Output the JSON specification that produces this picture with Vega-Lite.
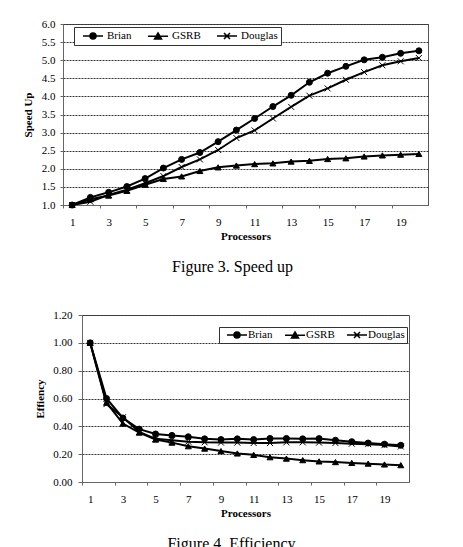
{
  "$schema": "https://vega.github.io/schema/vega-lite/v6.json",
  "background": "white",
  "padding": {"left": 21, "top": 17, "right": 0, "bottom": 0},
  "datasets": {
    "runs": [
      {"p": 1, "series": "Brian", "speedup": 1.00, "efficiency": 1.00},
      {"p": 2, "series": "Brian", "speedup": 1.21, "efficiency": 0.60},
      {"p": 3, "series": "Brian", "speedup": 1.35, "efficiency": 0.46},
      {"p": 4, "series": "Brian", "speedup": 1.51, "efficiency": 0.38},
      {"p": 5, "series": "Brian", "speedup": 1.73, "efficiency": 0.345},
      {"p": 6, "series": "Brian", "speedup": 2.02, "efficiency": 0.335},
      {"p": 7, "series": "Brian", "speedup": 2.26, "efficiency": 0.325},
      {"p": 8, "series": "Brian", "speedup": 2.45, "efficiency": 0.31},
      {"p": 9, "series": "Brian", "speedup": 2.75, "efficiency": 0.305},
      {"p": 10, "series": "Brian", "speedup": 3.07, "efficiency": 0.31},
      {"p": 11, "series": "Brian", "speedup": 3.39, "efficiency": 0.305},
      {"p": 12, "series": "Brian", "speedup": 3.72, "efficiency": 0.313},
      {"p": 13, "series": "Brian", "speedup": 4.03, "efficiency": 0.313},
      {"p": 14, "series": "Brian", "speedup": 4.39, "efficiency": 0.31},
      {"p": 15, "series": "Brian", "speedup": 4.64, "efficiency": 0.312},
      {"p": 16, "series": "Brian", "speedup": 4.83, "efficiency": 0.30},
      {"p": 17, "series": "Brian", "speedup": 5.01, "efficiency": 0.29},
      {"p": 18, "series": "Brian", "speedup": 5.08, "efficiency": 0.28},
      {"p": 19, "series": "Brian", "speedup": 5.19, "efficiency": 0.272},
      {"p": 20, "series": "Brian", "speedup": 5.26, "efficiency": 0.264},
      {"p": 1, "series": "GSRB", "speedup": 1.00, "efficiency": 1.00},
      {"p": 2, "series": "GSRB", "speedup": 1.16, "efficiency": 0.57},
      {"p": 3, "series": "GSRB", "speedup": 1.26, "efficiency": 0.42},
      {"p": 4, "series": "GSRB", "speedup": 1.39, "efficiency": 0.355},
      {"p": 5, "series": "GSRB", "speedup": 1.56, "efficiency": 0.305},
      {"p": 6, "series": "GSRB", "speedup": 1.72, "efficiency": 0.283},
      {"p": 7, "series": "GSRB", "speedup": 1.79, "efficiency": 0.257},
      {"p": 8, "series": "GSRB", "speedup": 1.94, "efficiency": 0.24},
      {"p": 9, "series": "GSRB", "speedup": 2.04, "efficiency": 0.222},
      {"p": 10, "series": "GSRB", "speedup": 2.09, "efficiency": 0.205},
      {"p": 11, "series": "GSRB", "speedup": 2.13, "efficiency": 0.195},
      {"p": 12, "series": "GSRB", "speedup": 2.15, "efficiency": 0.178},
      {"p": 13, "series": "GSRB", "speedup": 2.20, "efficiency": 0.168},
      {"p": 14, "series": "GSRB", "speedup": 2.22, "efficiency": 0.157},
      {"p": 15, "series": "GSRB", "speedup": 2.27, "efficiency": 0.148},
      {"p": 16, "series": "GSRB", "speedup": 2.29, "efficiency": 0.143},
      {"p": 17, "series": "GSRB", "speedup": 2.34, "efficiency": 0.137},
      {"p": 18, "series": "GSRB", "speedup": 2.37, "efficiency": 0.132},
      {"p": 19, "series": "GSRB", "speedup": 2.39, "efficiency": 0.126},
      {"p": 20, "series": "GSRB", "speedup": 2.41, "efficiency": 0.121},
      {"p": 1, "series": "Douglas", "speedup": 1.00, "efficiency": 1.00},
      {"p": 2, "series": "Douglas", "speedup": 1.09, "efficiency": 0.56},
      {"p": 3, "series": "Douglas", "speedup": 1.28, "efficiency": 0.465},
      {"p": 4, "series": "Douglas", "speedup": 1.42, "efficiency": 0.36},
      {"p": 5, "series": "Douglas", "speedup": 1.60, "efficiency": 0.31},
      {"p": 6, "series": "Douglas", "speedup": 1.80, "efficiency": 0.30},
      {"p": 7, "series": "Douglas", "speedup": 2.05, "efficiency": 0.29},
      {"p": 8, "series": "Douglas", "speedup": 2.26, "efficiency": 0.285},
      {"p": 9, "series": "Douglas", "speedup": 2.52, "efficiency": 0.283},
      {"p": 10, "series": "Douglas", "speedup": 2.85, "efficiency": 0.283},
      {"p": 11, "series": "Douglas", "speedup": 3.06, "efficiency": 0.28},
      {"p": 12, "series": "Douglas", "speedup": 3.39, "efficiency": 0.28},
      {"p": 13, "series": "Douglas", "speedup": 3.71, "efficiency": 0.285},
      {"p": 14, "series": "Douglas", "speedup": 4.02, "efficiency": 0.285},
      {"p": 15, "series": "Douglas", "speedup": 4.22, "efficiency": 0.283},
      {"p": 16, "series": "Douglas", "speedup": 4.46, "efficiency": 0.28},
      {"p": 17, "series": "Douglas", "speedup": 4.67, "efficiency": 0.275},
      {"p": 18, "series": "Douglas", "speedup": 4.86, "efficiency": 0.272},
      {"p": 19, "series": "Douglas", "speedup": 4.97, "efficiency": 0.265},
      {"p": 20, "series": "Douglas", "speedup": 5.06, "efficiency": 0.255}
    ]
  },
  "bounds": "flush",
  "center": true,
  "spacing": 110,
  "resolve": {"scale": {"shape": "independent"}, "legend": {"shape": "independent"}},
  "vconcat": [
    {
      "width": 365,
      "height": 181,
      "data": {"name": "runs"},
      "title": {"text": "Figure 3. Speed up", "offset": 18, "dx": -13},
      "resolve": {"scale": {"shape": "independent"}},
      "layer": [
        {
          "mark": {"type": "line", "color": "black", "strokeWidth": 2},
          "encoding": {
            "x": {"field": "p", "type": "quantitative", "scale": {"domain": [0.5, 20.5], "nice": false, "zero": false},
                  "axis": {"title": "Processors", "values": [1, 3, 5, 7, 9, 11, 13, 15, 17, 19], "format": "d", "tickOffset": -9.125, "labelOffset": 9.125}},
            "y": {"field": "speedup", "type": "quantitative", "scale": {"domain": [1, 6], "nice": false, "zero": false},
                  "axis": {"title": "Speed Up", "values": [1, 1.5, 2, 2.5, 3, 3.5, 4, 4.5, 5, 5.5, 6], "format": ".1f"}},
            "detail": {"field": "series"}
          }
        },
        {
          "mark": {"type": "point", "filled": true, "color": "black", "stroke": "black", "strokeWidth": 1, "opacity": 1, "size": 36},
          "encoding": {
            "x": {"field": "p", "type": "quantitative"},
            "y": {"field": "speedup", "type": "quantitative"},
            "shape": {
              "field": "series", "type": "nominal", "legend": null,
              "scale": {"domain": ["Brian", "GSRB", "Douglas"], "range": ["circle", "triangle-up", "M-1,-1L1,1M-1,1L1,-1"]}
            }
          }
        },
        {
          "mark": {"type": "point", "filled": true, "color": "black", "opacity": 0, "size": 36},
          "encoding": {
            "x": {"field": "p", "type": "quantitative"},
            "y": {"field": "speedup", "type": "quantitative"},
            "shape": {
              "field": "series", "type": "nominal",
              "scale": {"domain": ["Brian", "GSRB", "Douglas"], "range": [
                "M0,0L4,0M1.4,0A0.6,0.6 0 1,1 2.6,0A0.6,0.6 0 1,1 1.4,0Z",
                "M0,0L4,0M2,-0.65L2.7,0.55L1.3,0.55Z",
                "M0,0L4,0M1.4,-0.6L2.6,0.6M1.4,0.6L2.6,-0.6"]},
              "legend": {
                "title": null, "orient": "none", "legendX": 11, "legendY": 3,
                "direction": "horizontal", "columns": 3, "padding": 3,
                "symbolSize": 100, "symbolOpacity": 1, "labelOffset": 18, "columnPadding": 10,
                "encoding": {"symbols": {
                  "fill": {"value": "black"},
                  "stroke": {"value": "black"},
                  "strokeWidth": {"value": 1.5},
                  "opacity": {"value": 1}
                }}
              }
            }
          }
        }
      ]
    },
    {
      "width": 327,
      "height": 167,
      "data": {"name": "runs"},
      "title": {"text": "Figure 4. Efficiency", "offset": 18, "dx": -14},
      "resolve": {"scale": {"shape": "independent"}},
      "layer": [
        {
          "mark": {"type": "line", "color": "black", "strokeWidth": 2},
          "encoding": {
            "x": {"field": "p", "type": "quantitative", "scale": {"domain": [0.5, 20.5], "nice": false, "zero": false},
                  "axis": {"title": "Processors", "values": [1, 3, 5, 7, 9, 11, 13, 15, 17, 19], "format": "d", "tickOffset": -8.175, "labelOffset": 8.175}},
            "y": {"field": "efficiency", "type": "quantitative", "scale": {"domain": [0, 1.2], "nice": false, "zero": false},
                  "axis": {"title": "Effiency", "values": [0, 0.2, 0.4, 0.6, 0.8, 1.0, 1.2], "format": ".2f", "tickSize": 4, "labelPadding": 6, "titlePadding": 7}},
            "detail": {"field": "series"}
          }
        },
        {
          "mark": {"type": "point", "filled": true, "color": "black", "stroke": "black", "strokeWidth": 1, "opacity": 1, "size": 36},
          "encoding": {
            "x": {"field": "p", "type": "quantitative"},
            "y": {"field": "efficiency", "type": "quantitative"},
            "shape": {
              "field": "series", "type": "nominal", "legend": null,
              "scale": {"domain": ["Brian", "GSRB", "Douglas"], "range": ["circle", "triangle-up", "M-1,-1L1,1M-1,1L1,-1"]}
            }
          }
        },
        {
          "mark": {"type": "point", "filled": true, "color": "black", "opacity": 0, "size": 36},
          "encoding": {
            "x": {"field": "p", "type": "quantitative"},
            "y": {"field": "efficiency", "type": "quantitative"},
            "shape": {
              "field": "series", "type": "nominal",
              "scale": {"domain": ["Brian", "GSRB", "Douglas"], "range": [
                "M0,0L4,0M1.4,0A0.6,0.6 0 1,1 2.6,0A0.6,0.6 0 1,1 1.4,0Z",
                "M0,0L4,0M2,-0.65L2.7,0.55L1.3,0.55Z",
                "M0,0L4,0M1.4,-0.6L2.6,0.6M1.4,0.6L2.6,-0.6"]},
              "legend": {
                "title": null, "orient": "none", "legendX": 137, "legendY": 12,
                "direction": "horizontal", "columns": 3, "padding": 2,
                "symbolSize": 100, "symbolOpacity": 1, "labelOffset": 15, "columnPadding": 6,
                "encoding": {"symbols": {
                  "fill": {"value": "black"},
                  "stroke": {"value": "black"},
                  "strokeWidth": {"value": 1.5},
                  "opacity": {"value": 1}
                }}
              }
            }
          }
        }
      ]
    }
  ],
  "config": {
    "font": "Liberation Serif",
    "view": {"stroke": "#555", "strokeWidth": 1},
    "axis": {
      "labelFont": "Liberation Serif", "labelFontSize": 11, "labelColor": "black", "labelOverlap": false,
      "titleFont": "Liberation Serif", "titleFontSize": 11, "titleFontWeight": "bold", "titleColor": "black",
      "domainColor": "#666", "tickColor": "#666", "tickCount": 30
    },
    "axisX": {"grid": false, "tickSize": 3, "labelPadding": 8, "titlePadding": 3, "labelAngle": 0},
    "axisY": {"grid": true, "gridColor": "#333", "gridDash": [2, 1], "gridWidth": 1, "tickSize": 3, "labelPadding": 5, "titlePadding": 8},
    "legend": {
      "labelFont": "Liberation Serif", "labelFontSize": 11, "labelColor": "black",
      "fillColor": "white", "strokeColor": "#333",
      "symbolFillColor": "black", "symbolStrokeColor": "black", "symbolStrokeWidth": 1.5
    },
    "title": {"font": "Liberation Serif", "fontSize": 16, "fontWeight": "normal", "color": "black", "orient": "bottom", "anchor": "middle"}
  }
}
